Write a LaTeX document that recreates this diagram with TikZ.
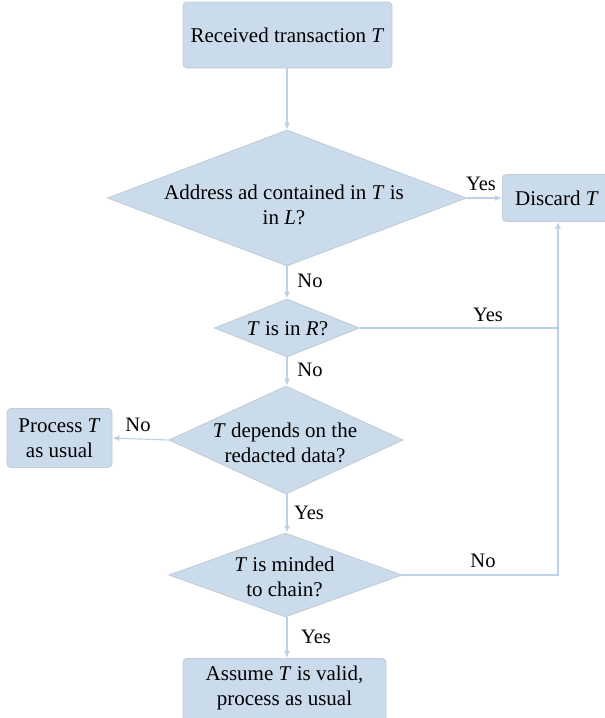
\documentclass[tikz,border=0pt]{standalone}
\usepackage{fontspec}
\setmainfont{Liberation Serif}
\usetikzlibrary{arrows.meta,shapes.geometric}

\definecolor{boxfill}{HTML}{CADBEC}
\definecolor{boxedge}{HTML}{C4CCD4}
\definecolor{linkcol}{HTML}{BDD2EA}

\tikzset{
  x=1pt, y=1pt,
  every node/.style={font=\fontsize{21}{25}\selectfont},
  procbox/.style={draw=boxedge, line width=0.9pt, fill=boxfill, rounded corners=4pt,
    inner sep=0pt, align=center},
  decision/.style={draw=boxedge, line width=0.9pt, fill=boxfill, shape=diamond,
    inner sep=0pt},
  dtext/.style={align=center, inner sep=0pt},
  link/.style={draw=linkcol, line width=1.1pt, -{Latex[length=7pt,width=6pt]}},
  plainlink/.style={draw=linkcol, line width=1.1pt},
  tag/.style={inner sep=0pt, font=\fontsize{20.5}{24}\selectfont},
}

\newcommand{\Tv}{\textit{T}}

\begin{document}
\begin{tikzpicture}
\useasboundingbox (0,0) rectangle (605,-718);

% process boxes
\node[procbox, minimum width=209pt, minimum height=66pt] (start) at (287.5,-35) {Received transaction \Tv};
\node[procbox, minimum width=112pt, minimum height=47pt, anchor=west] (discard) at (502,-198) {};
\node[anchor=west, inner sep=0pt] (discardtext) at (515,-198) {Discard \Tv};
\node[procbox, minimum width=105pt, minimum height=59pt] (usual) at (59.5,-438) {Process \Tv\\as usual};
\node[procbox, minimum width=203pt, minimum height=66pt, anchor=north] (valid) at (284.5,-658) {};
\node[dtext] (validtext) at (284.5,-688) {Assume \Tv{} is valid,\\process as usual};

% decisions
\node[decision, minimum width=359pt, minimum height=136pt] (d1) at (287,-198) {};
\node[dtext] (d1text) at (284,-205) {Address ad contained in \Tv{} is\\in \textit{L}?};
\node[decision, minimum width=145pt, minimum height=58pt] (d2) at (287,-328) {};
\node[dtext] (d2text) at (287.5,-329) {\Tv{} is in \textit{R}?};
\node[decision, minimum width=234pt, minimum height=108pt] (d3) at (286,-440) {};
\node[dtext] (d3text) at (285,-443) {\Tv{} depends on the\\redacted data?};
\node[decision, minimum width=233pt, minimum height=84pt] (d4) at (285.5,-575) {};
\node[dtext] (d4text) at (284.5,-577) {\Tv{} is minded\\to chain?};

% trunk line x position and junctions on the right-hand return line
\coordinate (trunk) at (287,0);
\coordinate (j2) at (558,-328);
\coordinate (j4) at (558,-575);

% connectors
\draw[link] (trunk |- start.south) -- (trunk |- d1.north);
\draw[link] (d1.east) -- (discard.west);
\draw[link] (trunk |- d1.south) -- (trunk |- d2.north);
\draw[link] (trunk |- d2.south) -- (trunk |- d3.north);
\draw[link] (d3.west) -- (usual.east);
\draw[link] (trunk |- d3.south) -- (trunk |- d4.north);
\draw[link] (trunk |- d4.south) -- (trunk |- valid.north);
\draw[plainlink] (d2.east) -- (j2);
\draw[link] (d4.east) -- (j4) -- (j4 |- discard.south);

% branch labels
\node[tag] (y1) at (481,-184) {Yes};
\node[tag] (n1) at (310,-281) {No};
\node[tag] (y2) at (488,-315) {Yes};
\node[tag] (n2) at (310,-370) {No};
\node[tag] (n3) at (138,-425) {No};
\node[tag] (y3) at (309,-513) {Yes};
\node[tag] (n4) at (483,-561) {No};
\node[tag] (y4) at (316,-637) {Yes};
\end{tikzpicture}
\end{document}
